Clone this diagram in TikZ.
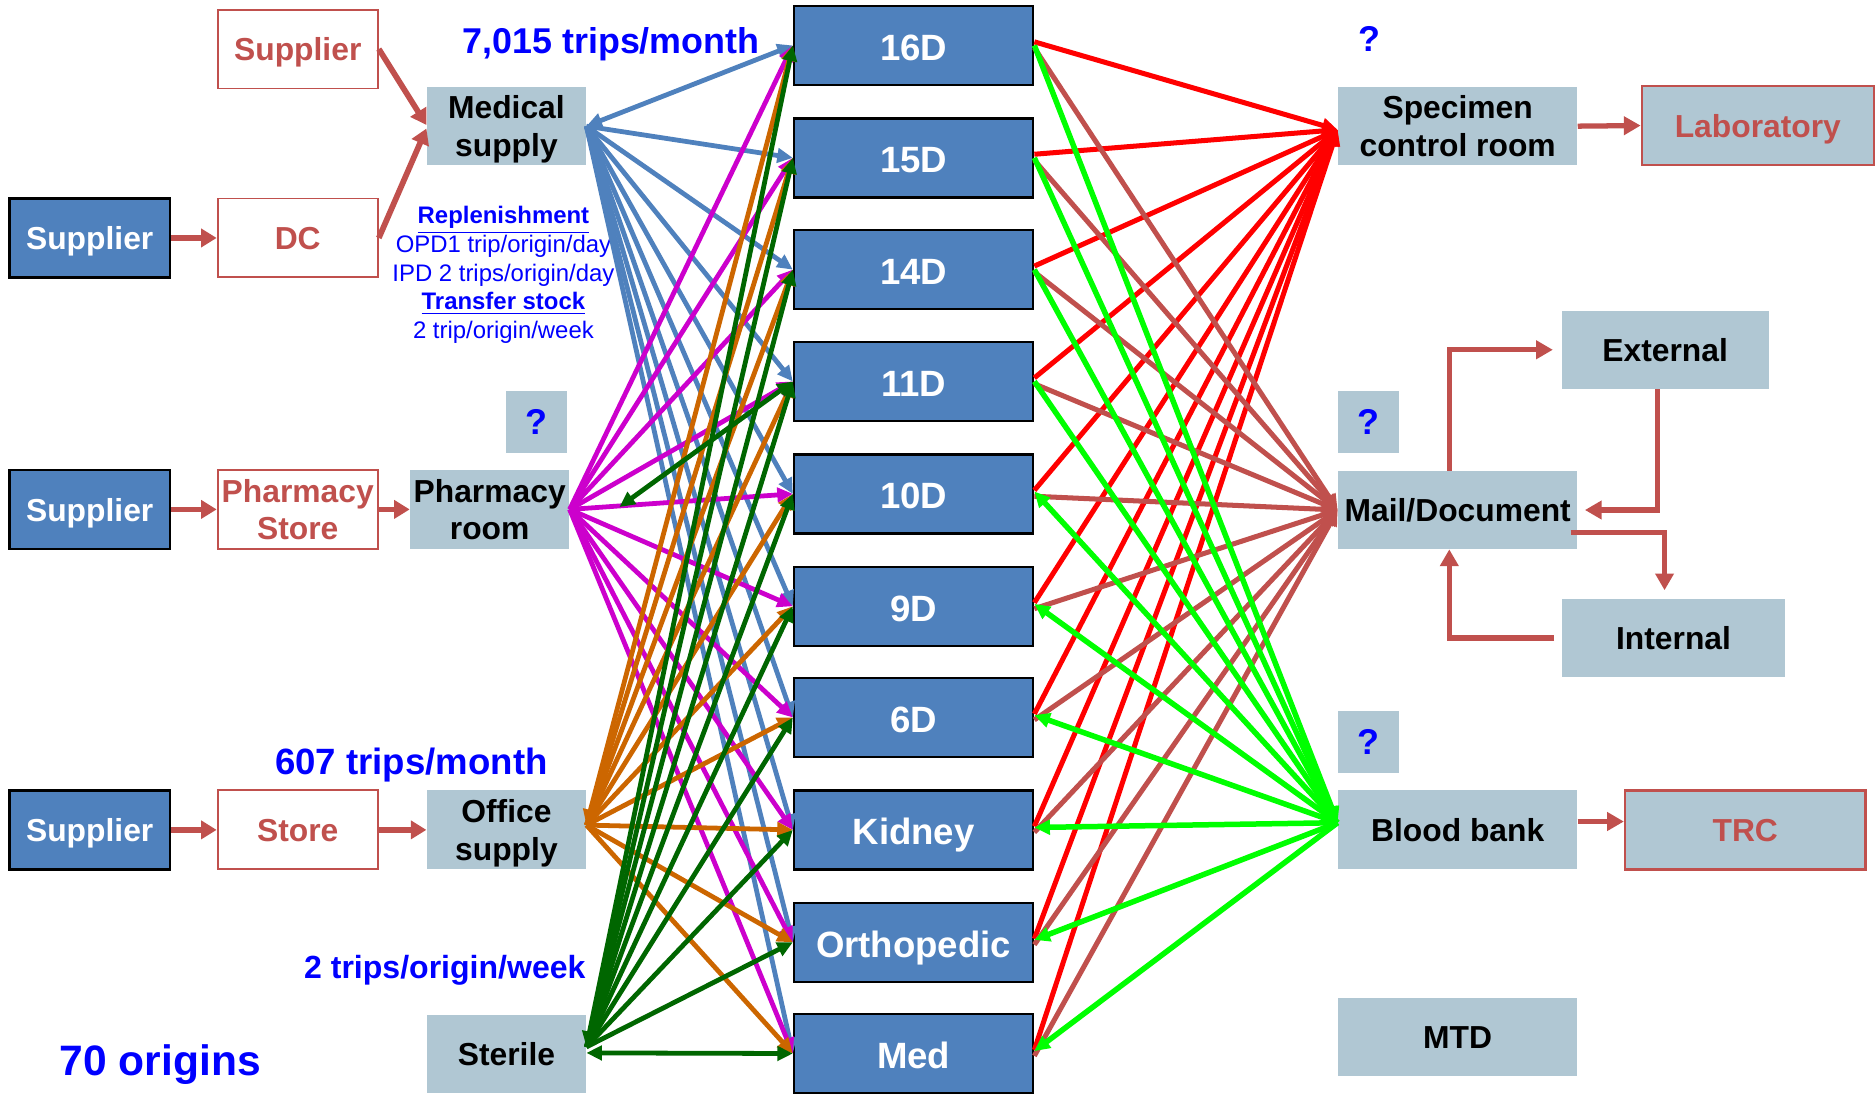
\documentclass[tikz,border=0pt]{standalone}
\usepackage{fontspec}
\setmainfont{Liberation Sans}
\usetikzlibrary{arrows.meta}
\definecolor{dblue}{HTML}{4F81BD}
\definecolor{gbox}{HTML}{B0C7D3}
\definecolor{rbrown}{HTML}{C0504D}
\definecolor{tblue}{HTML}{0000FF}
\definecolor{mag}{HTML}{CC00CC}
\definecolor{orng}{HTML}{CC6600}
\definecolor{dgreen}{HTML}{006600}
\definecolor{bgreen}{HTML}{00FF00}
\definecolor{bred}{HTML}{FF0000}
\newcommand\boxlines[1]{\begin{tabular}{@{}c@{}}#1\end{tabular}}
\begin{document}
\begin{tikzpicture}[x=0.5pt,y=-0.5pt,
  midtxt/.style={text=white, font=\fontsize{15.3}{17}\selectfont\bfseries, inner sep=0pt, yshift=-2.8pt},
  suptxt/.style={text=white, font=\fontsize{13.3}{15.8}\selectfont\bfseries, inner sep=0pt, yshift=-1.7pt},
  redtxt/.style={text=rbrown, font=\fontsize{13.3}{15.8}\selectfont\bfseries, inner sep=0pt, yshift=-1.7pt},
  blktxt/.style={text=black, font=\fontsize{13.3}{15.8}\selectfont\bfseries, inner sep=0pt, yshift=-1.7pt},
  midbox/.style={draw=black, line width=1pt, fill=dblue, minimum width=100pt, minimum height=33pt,
    inner sep=0pt, label={[midtxt]center:\boxlines{#1}}},
  supbox/.style={draw=black, line width=1pt, fill=dblue, minimum width=67pt, minimum height=33pt,
    inner sep=0pt, label={[suptxt]center:\boxlines{#1}}},
  redbox/.style={draw=rbrown, line width=0.8pt, fill=white, minimum width=67pt, minimum height=33pt,
    inner sep=0pt, label={[redtxt]center:\boxlines{#1}}},
  graybox/.style={fill=gbox, minimum height=32.5pt, inner sep=0pt, label={[blktxt]center:\boxlines{#1}}},
  redgbox/.style={fill=gbox, draw=rbrown, line width=1pt, minimum height=33pt, inner sep=0pt,
    label={[redtxt]center:\boxlines{#1}}},
  qbox/.style={fill=gbox, text=tblue, font=\fontsize{15}{17}\selectfont\bfseries,
    minimum width=25.5pt, minimum height=26pt, inner sep=0pt},
  bluetext/.style={text=tblue, inner sep=0pt},
  fan/.style={line width=2pt, -{Triangle[length=6.5pt,width=6pt]}},
  fanboth/.style={line width=2pt, {Triangle[length=6.5pt,width=6pt]}-{Triangle[length=6.5pt,width=6pt]}},
  rfan/.style={line width=2.1pt, -{Triangle[length=6.5pt,width=6pt]}},
  lred/.style={draw=rbrown, line width=2.4pt, -{Triangle[length=6.5pt,width=7.5pt]}},
  loopred/.style={draw=rbrown, line width=2.2pt, -{Triangle[length=7pt,width=7.5pt]}}
]
\useasboundingbox (0,0) rectangle (1568,915);

% ---------- left column ----------
\node[redbox={Supplier}] (supT) at (249,41) {};
\node[graybox={Medical\\supply}, minimum width=66.5pt] (medsup) at (423.5,105.5) {};
\node[supbox={Supplier}] (sup1) at (75,199) {};
\node[redbox={DC}] (dc) at (249,199) {};
\node[qbox] (q1) at (448.5,353) {?};
\node[supbox={Supplier}] (sup2) at (75,426) {};
\node[redbox={Pharmacy\\Store}] (phst) at (249,426) {};
\node[graybox={Pharmacy\\room}, minimum width=66.5pt, minimum height=33pt] (phroom) at (409.5,426) {};
\node[supbox={Supplier}] (sup3) at (75,694) {};
\node[redbox={Store}] (store) at (249,694) {};
\node[graybox={Office\\supply}, minimum width=66.5pt, minimum height=33pt] (office) at (423.5,694) {};
\node[graybox={Sterile}, minimum width=66.5pt] (sterile) at (423.5,881.5) {};

\node[bluetext, font=\fontsize{15}{17}\selectfont\bfseries] (t7015) at (511,37) {7,015 trips/month};
\node[bluetext, font=\fontsize{15.3}{17}\selectfont\bfseries] (t607) at (344,640) {607 trips/month};
\node[bluetext, font=\fontsize{13.4}{15}\selectfont\bfseries] (t2trips) at (372,811) {2 trips/origin/week};
\node[bluetext, font=\fontsize{17.8}{20}\selectfont\bfseries] (t70) at (134,890) {70 origins};
\node[bluetext, align=center, font=\fontsize{10}{12}\selectfont] (trep) at (421,230)
  {\textbf{\underline{Replenishment}}\\OPD1 trip/origin/day\\IPD 2 trips/origin/day\\\textbf{\underline{Transfer stock}}\\2 trip/origin/week};

% ---------- middle column ----------
\foreach \i/\y/\t in {1/38/16D, 2/132/15D, 3/225.5/14D, 4/319/11D, 5/413/10D,
  6/507/9D, 7/600/6D, 8/694/Kidney, 9/788/Orthopedic, 10/881/Med}
  \node[midbox={\t}] (m\i) at (764,\y) {};

% ---------- right column ----------
\node[bluetext, font=\fontsize{15}{17}\selectfont\bfseries] (qtop) at (1145,33) {?};
\node[graybox={Specimen\\control room}, minimum width=100pt] (spec) at (1219,105.5) {};
\node[redgbox={Laboratory}, minimum width=97pt] (lab) at (1470,105) {};
\node[graybox={External}, minimum width=86.5pt] (ext) at (1392.5,292.5) {};
\node[qbox] (q2) at (1144.5,353) {?};
\node[graybox={Mail/Document}, minimum width=100pt] (mail) at (1219,426.5) {};
\node[graybox={Internal}, minimum width=93.5pt] (int) at (1399.5,533.5) {};
\node[qbox] (q3) at (1144.5,620.5) {?};
\node[graybox={Blood bank}, minimum width=100pt, minimum height=33pt] (blood) at (1219,694) {};
\node[redgbox={TRC}, minimum width=100.5pt] (trc) at (1459.5,694) {};
\node[graybox={MTD}, minimum width=100pt] (mtd) at (1219,867.5) {};

% ---------- left red arrows ----------
\draw[lred] (supT.east) -- ([yshift=0.5pt]medsup.west);
\draw[lred] (dc.east) -- ([yshift=-1pt]medsup.west);
\draw[lred] (sup1.east) -- (dc.west);
\draw[lred] (sup2.east) -- (phst.west);
\draw[lred] (phst.east) -- (phroom.west);
\draw[lred] (sup3.east) -- (store.west);
\draw[lred] (store.east) -- (office.west);

% ---------- left fans ----------
\draw[fanboth, dblue] (medsup.east) -- (m1.west);
\foreach \i in {2,...,10} \draw[fan, dblue] (medsup.east) -- (m\i.west);
\foreach \i in {1,...,10} \draw[fan, mag] (phroom.east) -- (m\i.west);
\draw[fanboth, orng] ([yshift=2pt]office.east) -- (m1.west);
\foreach \i in {2,...,10} \draw[fan, orng] ([yshift=2pt]office.east) -- (m\i.west);
\draw[fanboth, dgreen] ([yshift=3pt]sterile.east) -- (m1.west);
\foreach \i in {2,...,9} \draw[fan, dgreen] ([yshift=3pt]sterile.east) -- (m\i.west);
\draw[fanboth, dgreen] ([yshift=0.5pt]sterile.east) -- (m10.west);
\coordinate (gtip) at (518,424);
\draw[fanboth, dgreen] (gtip) -- (m4.west);

% ---------- right fans ----------
\foreach \i in {1,...,10} \draw[rfan, bred] ([yshift=1.5pt]m\i.east) -- ([yshift=-1.5pt]spec.west);
\foreach \i in {1,...,10} \draw[rfan, rbrown] ([yshift=-1pt]m\i.east) -- (mail.west);
\foreach \i in {1,...,4} \draw[rfan, bgreen, line width=2.3pt] (m\i.east) -- ([yshift=3pt]blood.west);
\foreach \i in {5,...,10} \draw[rfan, bgreen, line width=2.3pt] ([yshift=3pt]blood.west) -- ([yshift=1pt]m\i.east);

% ---------- right connectors ----------
\draw[loopred] (spec.east) -- (lab.west);
\draw[loopred] (blood.east |- 0,687) -- (trc.west |- 0,687);
\draw[loopred, shorten >=3.5pt] ([xshift=-3.5pt]mail.north) |- (ext.west);
\draw[loopred, shorten >=3pt] ([xshift=-3.25pt]ext.south) |- (mail.east);
\draw[loopred, shorten >=3.5pt] ([xshift=-3pt,yshift=-9.25pt]mail.east) -| ([xshift=-3.75pt]int.north);
\draw[loopred, shorten <=3pt] (int.west) -| ([xshift=-3.5pt]mail.south);
\end{tikzpicture}
\end{document}
